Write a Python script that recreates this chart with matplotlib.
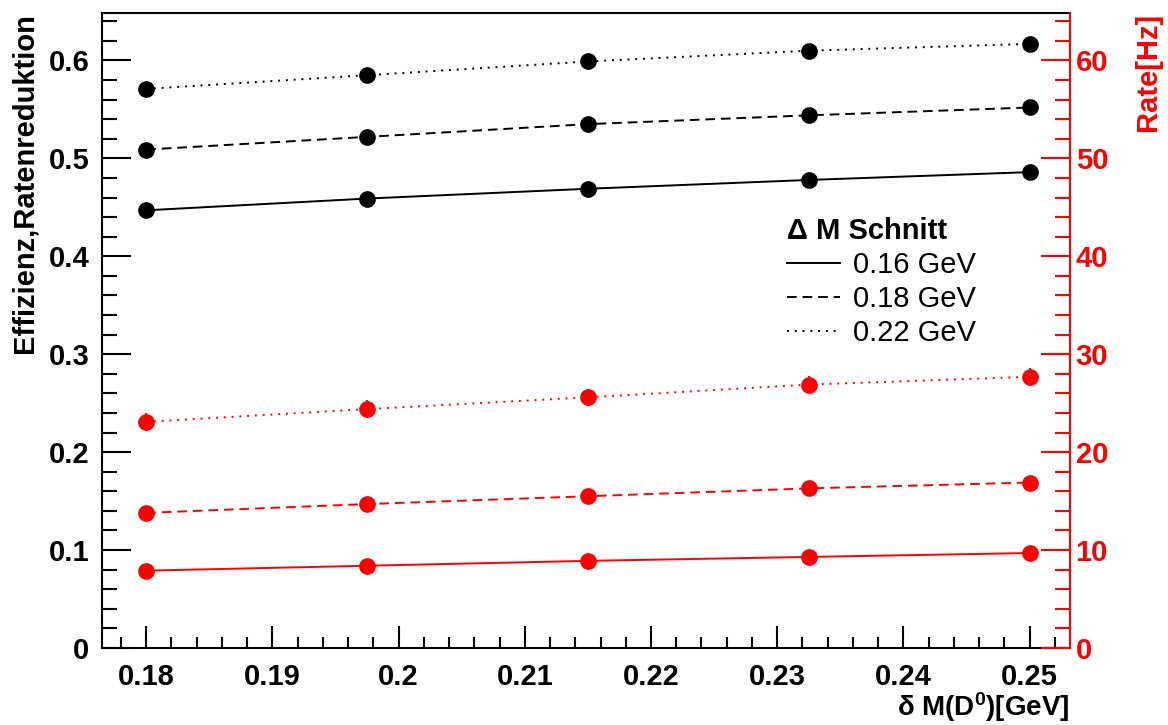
import matplotlib
matplotlib.use("Agg")
import matplotlib.pyplot as plt
from matplotlib.lines import Line2D
from matplotlib.ticker import MultipleLocator, FuncFormatter

plt.rcParams["font.family"] = ["Liberation Sans", "DejaVu Sans"]
plt.rcParams["mathtext.fontset"] = "custom"
plt.rcParams["mathtext.rm"] = "Liberation Sans:bold"
plt.rcParams["mathtext.it"] = "Liberation Sans:bold"

# delta M(D0) cut values [GeV]
delta_m = [0.18, 0.1975, 0.215, 0.2325, 0.25]

# Delta M cut -> linestyle
cut_labels = ["0.16 GeV", "0.18 GeV", "0.22 GeV"]

# efficiency / rate reduction (left axis), one list per Delta M cut
eff_016 = [0.447, 0.459, 0.469, 0.478, 0.486]
eff_018 = [0.509, 0.522, 0.535, 0.544, 0.552]
eff_022 = [0.571, 0.585, 0.599, 0.610, 0.617]

# rate in Hz (right axis)
rate_016 = [7.9, 8.4, 8.9, 9.3, 9.7]
rate_018 = [13.8, 14.7, 15.5, 16.3, 16.9]
rate_022 = [23.1, 24.4, 25.6, 26.9, 27.7]

# rate uncertainties in Hz
rate_err_016 = [0.3, 0.3, 0.3, 0.3, 0.3]
rate_err_018 = [0.5, 0.5, 0.5, 0.5, 0.5]
rate_err_022 = [0.9, 0.9, 0.9, 0.9, 0.9]

STYLES = ["-", (0, (5, 3)), (0, (1, 3))]
RED = (1, 0, 0)
FS = 21


def fmt(v, pos):
    return f"{v:.10g}"


def style_axis(ax, color, side):
    ax.tick_params(axis="y", which="major", direction="in", length=21,
                   width=1.5, colors=color, labelsize=FS,
                   pad=9 if side == "left" else 4)
    ax.tick_params(axis="y", which="minor", direction="in", length=11,
                   width=1.5, colors=color)
    ax.yaxis.set_major_locator(MultipleLocator(0.1 if side == "left" else 10))
    ax.yaxis.set_minor_locator(MultipleLocator(0.02 if side == "left" else 2))
    ax.yaxis.set_major_formatter(FuncFormatter(fmt))
    for lab in ax.get_yticklabels():
        lab.set_fontweight("bold")


def rate_plot():
    fig = plt.figure(figsize=(11.68, 7.25), dpi=100)
    ax = fig.add_axes([102 / 1168, 1 - 648 / 725, 968 / 1168, 635 / 725])
    ax2 = ax.twinx()

    effs = [eff_016, eff_018, eff_022]
    rates = [rate_016, rate_018, rate_022]
    errs = [rate_err_016, rate_err_018, rate_err_022]

    for eff, rate, err, ls in zip(effs, rates, errs, STYLES):
        ax.plot(delta_m, eff, color="black", ls=ls, lw=1.4,
                marker="o", ms=11, mfc="black", mec="black")
        ax2.errorbar(delta_m, rate, yerr=err, color=RED, ls=ls, lw=1.4,
                     marker="o", ms=11, mfc=RED, mec=RED, elinewidth=1.4,
                     capsize=0)

    ax.set_xlim(0.1765, 0.2532)
    ax.set_ylim(0, 0.6485)
    ax2.set_ylim(0, 64.85)

    ax.xaxis.set_major_locator(MultipleLocator(0.01))
    ax.xaxis.set_minor_locator(MultipleLocator(0.002))
    ax.xaxis.set_major_formatter(FuncFormatter(fmt))
    ax.tick_params(axis="x", which="major", direction="in", length=16,
                   width=1.5, labelsize=FS, pad=11, top=False)
    ax.tick_params(axis="x", which="minor", direction="in", length=8,
                   width=1.5, top=False)
    for lab in ax.get_xticklabels():
        lab.set_fontweight("bold")

    style_axis(ax, "black", "left")
    style_axis(ax2, RED, "right")
    ax2.tick_params(axis="x", which="both", top=False, bottom=False)

    for sp in ax.spines.values():
        sp.set_linewidth(1.5)
    ax.spines["right"].set_visible(False)
    for name, sp in ax2.spines.items():
        sp.set_linewidth(1.5)
        if name != "right":
            sp.set_visible(False)
    ax2.spines["right"].set_color(RED)

    ax.set_ylabel("Effizienz,Ratenreduktion", fontsize=FS, fontweight="bold",
                  loc="top")
    ax.yaxis.set_label_coords(-0.066, 1.0)
    ax2.set_ylabel("Rate[Hz]", fontsize=FS, fontweight="bold", color=RED,
                   loc="top")
    ax2.yaxis.set_label_coords(1.066, 1.0)
    ax.set_xlabel("δ M(D$^{0}$)[GeV]", fontsize=20, fontweight="bold", loc="right")
    ax.xaxis.set_label_coords(1.0, -0.066)

    handles = [Line2D([], [], color="black", ls=ls, lw=1.4) for ls in STYLES]
    ax.legend(handles, cut_labels, title="Δ M Schnitt", loc="upper left",
              bbox_to_anchor=(0.708, 0.678), frameon=False, fontsize=FS,
              title_fontproperties={"weight": "bold", "size": FS},
              alignment="left", borderpad=0, borderaxespad=0,
              handlelength=1.8, handletextpad=0.45, labelspacing=0.2)

    fig.savefig("out.png", dpi=100)


def main():
    rate_plot()


if __name__ == "__main__":
    main()
